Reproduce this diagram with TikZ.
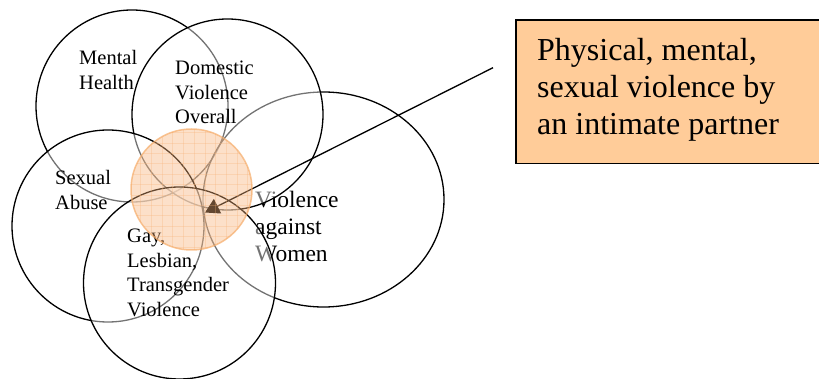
\documentclass[tikz,border=0pt]{standalone}
\usepackage{fontspec}
\setmainfont{Liberation Serif}
\usetikzlibrary{arrows.meta}
\definecolor{peach}{RGB}{255,204,153}
\definecolor{orangefill}{RGB}{248,178,120}
\definecolor{orangeedge}{RGB}{246,172,105}
\begin{document}
\begin{tikzpicture}[x=1pt,y=-1pt,
  ring/.style={draw=black,line width=1.3pt,fill=white,fill opacity=0.45},
  lab/.style={anchor=base west,inner sep=0pt,font=\fontsize{20.5}{24.5}\selectfont},
  labbig/.style={anchor=base west,inner sep=0pt,font=\fontsize{23.5}{27}\selectfont},
  gridline/.style={orangefill,opacity=0.3,line width=0.7pt}]
\useasboundingbox (0,0) rectangle (819,379);

% Mental Health
\draw[ring] (132,106) circle (96);
\node[lab] (mh) at (79,65) {\vtop{\hbox{Mental}\hbox{Health}}};

% Violence against Women
\draw[ring] (323.5,199.5) ellipse [x radius=120.5, y radius=107.5];
\node[labbig] (vaw) at (255,208) {\vtop{\hbox{Violence}\hbox{against}\hbox{Women}}};

% Domestic Violence Overall
\draw[ring] (227.5,114.5) circle (95.5);
\node[lab] (dv) at (175,75) {\vtop{\hbox{Domestic}\hbox{Violence}\hbox{Overall}}};

% Sexual Abuse
\draw[ring] (108,226) circle (96);
\node[lab] (sa) at (55,185) {\vtop{\hbox{Sexual}\hbox{Abuse}}};

% Gay, Lesbian, Transgender Violence
\draw[ring] (179.5,283) circle (96);
\node[lab] (glt) at (127,243) {\vtop{\hbox{Gay,}\hbox{Lesbian,}\hbox{Transgender}\hbox{Violence}}};

% pointer
\coordinate (from) at (493,67.7);
\coordinate (tip) at (205,212.5);
\draw[line width=1.3pt,-{Triangle[length=14pt,width=16pt]}] (from) -- (tip);

% orange intersection circle with grid
\begin{scope}
  \clip (191.5,189.5) circle (60.5);
  \fill[orangefill,opacity=0.4] (191.5,189.5) circle (60.5);
  \foreach \i in {0,...,11} \draw[gridline] (130+10.7*\i,120) -- ++(0,140);
  \foreach \j in {-3,...,10} \draw[gridline] (125,153.3+10.4*\j) -- ++(140,0);
\end{scope}
\draw[orangeedge,line width=1.5pt,opacity=0.7] (191.5,189.5) circle (60.5);

% text box
\node[draw=black,line width=1.5pt,fill=peach,anchor=north west,inner sep=0pt,
      minimum width=330pt,minimum height=143.5pt] (box) at (515,19.5) {};
\node[anchor=base west,inner sep=0pt,font=\fontsize{32}{36.7}\selectfont] (boxtext) at (537,60.7)
  {\vtop{\hbox{Physical, mental,}\hbox{sexual violence by}\hbox{an intimate partner}}};
\end{tikzpicture}
\end{document}
